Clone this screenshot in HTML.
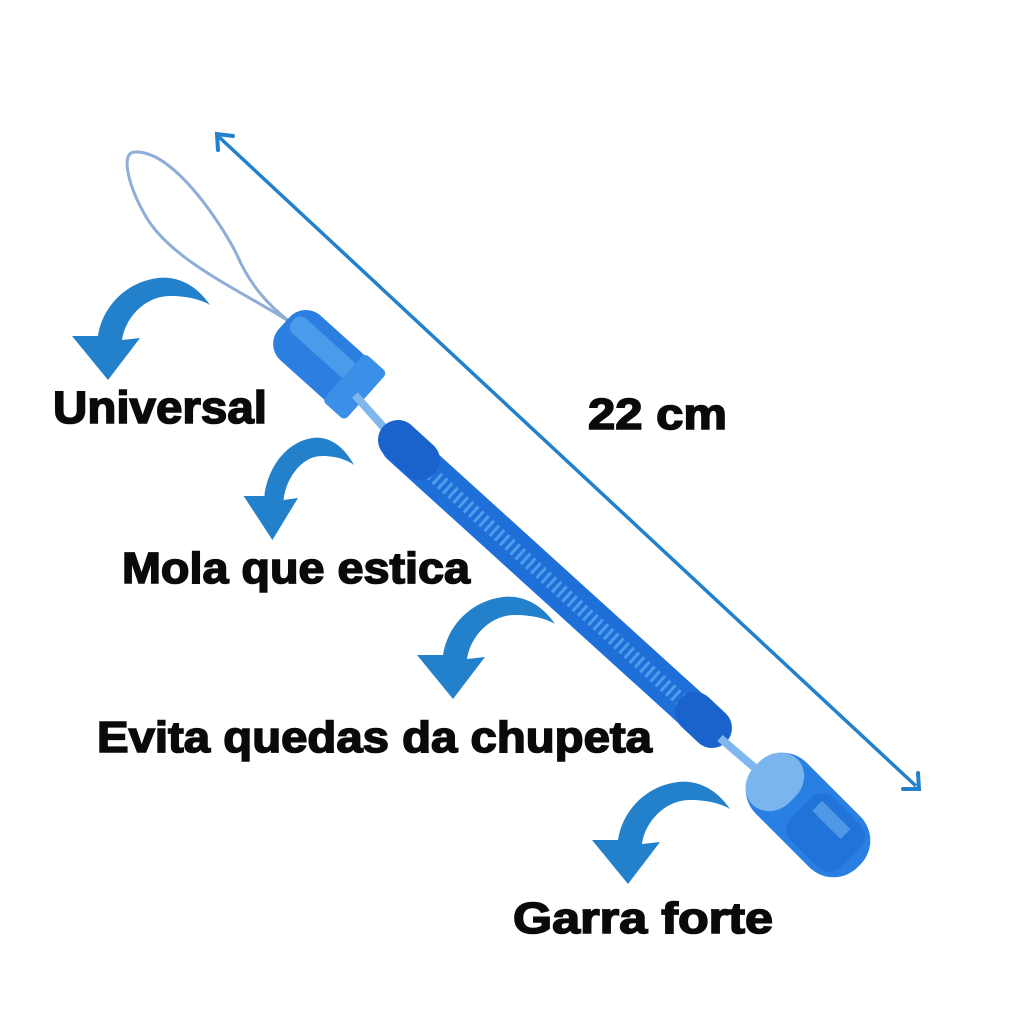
<!DOCTYPE html>
<html><head><meta charset="utf-8"><style>
html,body{margin:0;padding:0;background:#fff}
svg{display:block}
text{font-family:"Liberation Sans",sans-serif;font-weight:bold;fill:#0a0a0a;stroke:#0a0a0a;stroke-width:1.6}
</style></head><body>
<svg width="1024" height="1024" viewBox="0 0 1024 1024" xmlns="http://www.w3.org/2000/svg">
<defs>
<path id="arr" d="M140,27 C125,5 105,-2 88,0 C55,4 32,30 28,58 L2,58 L38,102 L70,60 L52,62 C55,40 75,18 100,18 C118,18 132,22 140,27 Z" fill="#2381cc"/>
</defs>
<!-- dimension line -->
<line x1="219" y1="137" x2="916" y2="786" stroke="#2381cc" stroke-width="3.5"/>
<path d="M218,150 L217,134 L233,136" fill="none" stroke="#2381cc" stroke-width="4" stroke-linecap="round"/>
<path d="M903,789 L919,789 L918,773" fill="none" stroke="#2381cc" stroke-width="4" stroke-linecap="round"/>
<!-- string loop -->
<path d="M290,322 C240,290 170,260 145,215 C128,185 120,152 135,152 C175,150 225,230 237,255 C250,285 268,305 290,322" fill="none" stroke="#8eaed8" stroke-width="3"/>
<!-- top clip -->
<g transform="translate(325,360) rotate(42)">
<rect x="-55" y="-30" width="110" height="60" rx="22" fill="#2a7fe0"/>
<rect x="-50" y="-18" width="80" height="20" rx="8" fill="#5aa6f0" opacity="0.7"/>
<rect x="25" y="-32" width="30" height="64" rx="5" fill="#3a8fe6"/>
</g>
<line x1="355" y1="395" x2="395" y2="440" stroke="#7fb6ee" stroke-width="8"/>
<!-- spring -->
<line x1="400" y1="445" x2="712" y2="728" stroke="#1f6fd8" stroke-width="38" stroke-linecap="round"/>
<line x1="400" y1="445" x2="712" y2="728" stroke="#5aa8f2" stroke-width="14" stroke-dasharray="3 4" opacity="0.8"/>
<line x1="398" y1="440" x2="420" y2="460" stroke="#1a63cc" stroke-width="40" stroke-linecap="round"/>
<line x1="695" y1="712" x2="712" y2="728" stroke="#1a63cc" stroke-width="40" stroke-linecap="round"/>
<line x1="720" y1="738" x2="755" y2="768" stroke="#7fb6ee" stroke-width="8"/>
<!-- bottom clip -->
<g transform="translate(808,815) rotate(45)">
<rect x="-72" y="-36" width="144" height="72" rx="34" fill="#2a80e2"/>
<rect x="-72" y="-32" width="50" height="64" rx="28" fill="#8fc2f2" opacity="0.8"/>
<rect x="-10" y="-30" width="70" height="60" rx="16" fill="#1e6fd6" opacity="0.8"/>
<rect x="0" y="-20" width="40" height="14" fill="#6fb0f0" opacity="0.6"/>
</g>
<!-- curved arrows -->
<use href="#arr" transform="translate(70,278)"/>
<use href="#arr" transform="translate(242,438) scale(0.8,1)"/>
<use href="#arr" transform="translate(415,597)"/>
<use href="#arr" transform="translate(590,782)"/>
<!-- labels -->
<text x="53" y="423" font-size="45" textLength="214" lengthAdjust="spacingAndGlyphs">Universal</text>
<text x="588" y="429" font-size="44" textLength="139" lengthAdjust="spacingAndGlyphs">22 cm</text>
<text x="122" y="583" font-size="44" textLength="348" lengthAdjust="spacingAndGlyphs">Mola que estica</text>
<text x="97" y="752" font-size="44" textLength="555" lengthAdjust="spacingAndGlyphs">Evita quedas da chupeta</text>
<text x="513" y="933" font-size="44" textLength="260" lengthAdjust="spacingAndGlyphs">Garra forte</text>
</svg>
</body></html>
